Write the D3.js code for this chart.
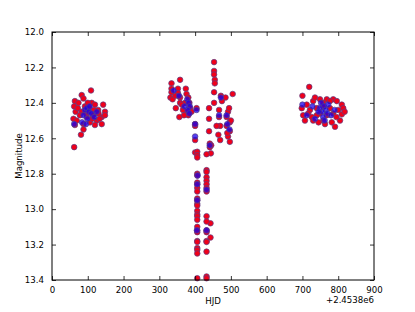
<!DOCTYPE html>
<meta charset="utf-8">
<style>
body { margin: 0; background: #fff; }
text { font-family: "DejaVu Sans", sans-serif; font-size: 8.6px; fill: #000; }
</style>
<body>
<svg width="415" height="312"></svg>
</body>
<script src="https://d3js.org/d3.v7.min.js"></script>
<script>

// [HJD - 2453800, magnitude]
var leftRed = [[83,12.356],[88,12.375],[109,12.33],[64,12.39],[74,12.40],[62,12.42],[66,12.45],[92,12.42],[111,12.40],[120,12.41],[143,12.41],[148,12.45],[129,12.44],[101,12.45],[83,12.45],[60,12.49],[69,12.50],[97,12.48],[115,12.47],[139,12.48],[125,12.50],[106,12.51],[88,12.52],[64,12.525],[120,12.525],[139,12.52],[88,12.55],[81,12.58],[62,12.65],[148,12.47],[130,12.46],[104,12.43],[95,12.46],[112,12.49],[78,12.47],[133,12.49],[100,12.40],[117,12.44],[72,12.43]];
var leftBlue = [[92,12.44],[97,12.43],[103,12.45],[88,12.47],[99,12.49],[110,12.46],[84,12.51],[95,12.52],[62,12.52],[118,12.48],[105,12.42],[125,12.45]];

var midRed = [[334,12.29],[334,12.32],[334,12.34],[331,12.37],[337,12.38],[358,12.27],[352,12.32],[352,12.345],[358,12.37],[358,12.40],[346,12.43],[374,12.32],[376,12.35],[381,12.37],[372,12.40],[386,12.43],[376,12.45],[381,12.47],[369,12.47],[356,12.48],[404,12.43],[400,12.52],[400,12.53],[363,12.41],[384,12.40],[345,12.36],[366,12.44],[390,12.45],
  [453,12.17],[453,12.22],[453,12.24],[455,12.27],[455,12.29],[453,12.34],[453,12.40],[472,12.36],[485,12.37],[505,12.35],[439,12.43],[439,12.49],[439,12.56],[467,12.44],[467,12.48],[470,12.53],[460,12.53],[465,12.58],[470,12.61],[492,12.45],[488,12.48],[497,12.51],[488,12.53],[497,12.56],[492,12.59],[497,12.62],[441,12.63],[441,12.65],[400,12.61],[400,12.68],[475,12.39],[495,12.43],[500,12.50],[490,12.57],[445,12.64]];
var midBlue = [[378,12.38],[382,12.40],[385,12.42],[379,12.44],[384,12.46],[340,12.33],[355,12.36],[400,12.52],[404,12.44],[370,12.42],
  [472,12.37],[467,12.47],[490,12.52],[496,12.55],[441,12.64],[400,12.59],[488,12.47]];

var dipHJD1 = 406;
var dipMag1 = [12.676,12.695,12.708,12.80,12.81,12.85,12.86,12.88,12.90,12.94,12.95,12.97,12.98,13.01,13.03,13.04,13.06,13.10,13.12,13.13,13.18,13.185,13.22,13.23,13.25,13.39];
var dipHJD2 = 432;
var dipMag2 = [12.69,12.78,12.79,12.82,12.84,12.86,12.88,12.90,13.04,13.07,13.12,13.13,13.18,13.185,13.24,13.38,13.39];
var dipExtra = [[444,12.685],[443,13.08],[443,13.16]];
var dipBlue = [[406,12.95],[405,13.12],[432,13.12],[406,12.86],[432,12.89],[407,12.81]];

var rightRed = [[719,12.31],[700,12.36],[749,12.38],[768,12.38],[786,12.38],[712,12.41],[730,12.39],[758,12.40],[796,12.39],[810,12.41],[698,12.43],[721,12.44],[740,12.43],[777,12.43],[800,12.44],[814,12.43],[702,12.47],[726,12.48],[749,12.46],[768,12.47],[786,12.46],[810,12.465],[707,12.50],[730,12.50],[758,12.50],[782,12.51],[791,12.535],[805,12.50],[758,12.42],[740,12.47],[795,12.48],[716,12.46],[735,12.37],[777,12.39],[818,12.45],[763,12.52],[745,12.51]];
var rightBlue = [[752,12.40],[760,12.42],[765,12.44],[755,12.45],[770,12.46],[758,12.48],[748,12.43],[772,12.41],[762,12.50],[745,12.45],[712,12.47],[728,12.42],[790,12.44],[780,12.47],[735,12.49],[700,12.41]];

var xTicks = [0,100,200,300,400,500,600,700,800,900];
var yTicks = [12.0,12.2,12.4,12.6,12.8,13.0,13.2,13.4];

var red = leftRed.concat(midRed, rightRed, dipExtra,
  dipMag1.map(function(m) { return [dipHJD1, m]; }),
  dipMag2.map(function(m) { return [dipHJD2, m]; }));
var blue = leftBlue.concat(midBlue, rightBlue, dipBlue);

var svg = d3.select("svg"),
    margin = {top: 32, right: 41, bottom: 32, left: 52},
    width = 415 - margin.left - margin.right,
    height = 312 - margin.top - margin.bottom,
    g = svg.append("g").attr("transform", "translate(" + margin.left + "," + margin.top + ")");

var x = d3.scaleLinear().domain([0, 900]).range([0, width]);
var y = d3.scaleLinear().domain([12.0, 13.4]).range([0, height]);

function dots(data, fill) {
  g.append("g").selectAll("circle")
    .data(data)
    .enter().append("circle")
      .attr("cx", function(d) { return x(d[0]); })
      .attr("cy", function(d) { return y(d[1]); })
      .attr("r", 2.8)
      .style("fill", fill)
      .style("stroke", "#5a3f86")
      .style("stroke-width", 0.7);
}
dots(red, "#f0001a");
dots(blue, "rgba(25,0,235,0.75)");

// frame and inward ticks on all sides
g.append("rect").attr("width", width).attr("height", height)
  .style("fill", "none").style("stroke", "#000").style("stroke-width", 1);

var xb = g.append("g").attr("transform", "translate(0," + height + ")")
  .call(d3.axisBottom(x).tickValues(xTicks).tickSizeInner(-4).tickSizeOuter(0).tickPadding(7).tickFormat(d3.format("d")));
var xt = g.append("g")
  .call(d3.axisTop(x).tickValues(xTicks).tickSizeInner(-4).tickSizeOuter(0).tickFormat(""));
var yl = g.append("g")
  .call(d3.axisLeft(y).tickValues(yTicks).tickSizeInner(-4).tickSizeOuter(0).tickPadding(8).tickFormat(d3.format(".1f")));
var yr = g.append("g").attr("transform", "translate(" + width + ",0)")
  .call(d3.axisRight(y).tickValues(yTicks).tickSizeInner(-4).tickSizeOuter(0).tickFormat(""));

g.selectAll(".domain").remove();
g.selectAll(".tick line").style("stroke", "#000").style("stroke-width", 0.8);
g.selectAll(".tick text").style("font-family", "DejaVu Sans").style("font-size", "8.6px").style("fill", "#000");

svg.append("text")
  .attr("x", margin.left + width / 2)
  .attr("y", 304)
  .attr("text-anchor", "middle")
  .text("HJD");

svg.append("text")
  .attr("x", margin.left + width)
  .attr("y", 303)
  .attr("text-anchor", "end")
  .text("+2.4538e6");

svg.append("text")
  .attr("transform", "translate(22," + (margin.top + height / 2) + ") rotate(-90)")
  .attr("text-anchor", "middle")
  .text("Magnitude");

</script>
